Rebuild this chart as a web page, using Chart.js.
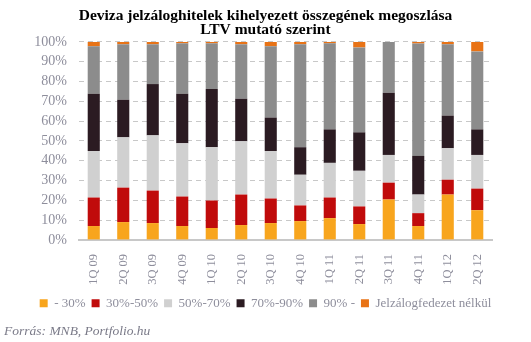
<!DOCTYPE html>
<html><head><meta charset="utf-8">
<script src="https://cdn.jsdelivr.net/npm/chart.js@4"></script>
<style>html,body{margin:0;padding:0;background:#fff}#w{width:531px;height:342px}</style>
</head><body><div id="w"><canvas id="c"></canvas></div>
<script>
const categories = ["1Q 09","2Q 09","3Q 09","4Q 09","1Q 10","2Q 10","3Q 10","4Q 10","1Q 11","2Q 11","3Q 11","4Q 11","1Q 12","2Q 12"];
const seriesNames = ["- 30%","30%-50%","50%-70%","70%-90%","90% -","Jelzálogfedezet nélkül"];
const s30   = [7.0, 9.0, 8.5, 7.0, 6.0, 7.5, 8.5, 9.5, 11.0, 8.0, 20.4, 7.0, 22.9, 15.0];
const s3050 = [14.4,17.4,16.4,14.9,13.9,15.4,12.4, 7.9,10.4, 8.9, 8.5, 6.5, 7.5,10.9];
const s5070 = [23.5,25.4,27.9,26.9,26.9,26.9,24.0,15.5,17.5,18.0,14.0, 9.4,15.9,17.0];
const s7090 = [28.9,19.0,25.9,25.0,29.4,21.5,16.9,13.9,16.9,19.4,31.4,19.5,16.5,12.9];
const s90   = [24.0,28.0,20.1,25.5,23.1,27.5,36.0,52.0,43.5,42.9,25.7,56.8,36.0,39.4];
const sNone = [2.2, 1.2, 1.2, 0.7, 0.7, 1.2, 2.2, 1.2, 0.7, 2.8, 0.0, 0.8, 1.2, 4.8];
const yTicks = [0,10,20,30,40,50,60,70,80,90,100];
const colors = ["#F8A51D","#C00B0B","#D0D0D0","#2B1B22","#8C8C8C","#E87316"];
const series = [s30,s3050,s5070,s7090,s90,sNone];
const grayText = "#8E8E9C";
new Chart(document.getElementById('c'), {
  type: 'bar',
  data: {
    labels: categories,
    datasets: series.map((d,i)=>({label: seriesNames[i], data: d, backgroundColor: colors[i], borderWidth:0, barPercentage:0.41, categoryPercentage:1}))
  },
  options: {
    responsive:true, maintainAspectRatio:false, animation:false,
    layout:{padding:{left:4,right:4,top:6,bottom:0}},
    plugins:{
      title:{display:true, text:["Deviza jelzáloghitelek kihelyezett összegének megoszlása","LTV mutató szerint"], color:"#000", font:{family:"Liberation Serif", size:15.5, weight:"bold", lineHeight:0.9}, padding:{top:3,bottom:5}},
      subtitle:{display:true, position:'bottom', align:'start', text:"Forrás: MNB, Portfolio.hu", color:"#7A7A88", font:{family:"Liberation Serif", size:13.5, style:"italic"}, padding:{top:4,bottom:2}},
      legend:{position:'bottom', labels:{boxWidth:8, boxHeight:8, padding:6, color:grayText, font:{family:"Liberation Serif", size:13}}},
      tooltip:{enabled:false}
    },
    scales:{
      x:{stacked:true, grid:{display:false}, border:{color:"#C8C8C8", width:2},
         ticks:{color:grayText, font:{family:"Liberation Serif", size:12.5}, maxRotation:90, minRotation:90, padding:6}},
      y:{stacked:true, min:0, max:100, afterBuildTicks:(a)=>{a.ticks=yTicks.map(v=>({value:v}));},
         afterFit:(s)=>{s.width=75;},
         grid:{color:"#C8C8C8", lineWidth:1, drawTicks:false}, border:{display:false, dash:[5,4]},
         ticks:{autoSkip:false, color:grayText, font:{family:"Liberation Serif", size:14}, padding:12, callback:v=>v+'%'}},
      yR:{position:'right', display:true, min:0, max:100, grid:{display:false}, border:{display:false},
          ticks:{display:false}, afterFit:(s)=>{s.width=35;}}
    }
  }
});
</script></body></html>
